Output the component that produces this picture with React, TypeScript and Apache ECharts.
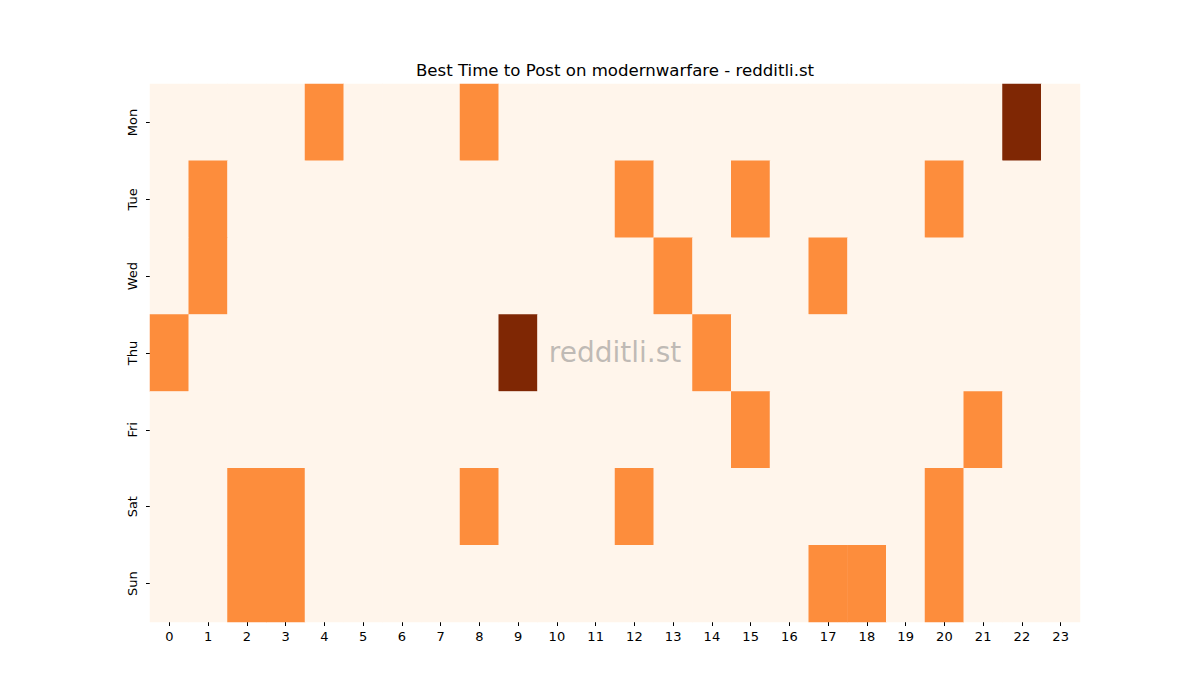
import React, { useEffect, useRef } from "react";
import * as echarts from "echarts";

const hours = Array.from({ length: 24 }, (_, i) => String(i));
const days = ["Mon", "Tue", "Wed", "Thu", "Fri", "Sat", "Sun"];

// Rows of hourly values per day (0..2)
const mon = [0,0,0,0,1,0,0,0,1,0,0,0,0,0,0,0,0,0,0,0,0,0,2,0];
const tue = [0,1,0,0,0,0,0,0,0,0,0,0,1,0,0,1,0,0,0,0,1,0,0,0];
const wed = [0,1,0,0,0,0,0,0,0,0,0,0,0,1,0,0,0,1,0,0,0,0,0,0];
const thu = [1,0,0,0,0,0,0,0,0,2,0,0,0,0,1,0,0,0,0,0,0,0,0,0];
const fri = [0,0,0,0,0,0,0,0,0,0,0,0,0,0,0,1,0,0,0,0,0,1,0,0];
const sat = [0,0,1,1,0,0,0,0,1,0,0,0,1,0,0,0,0,0,0,0,1,0,0,0];
const sun = [0,0,1,1,0,0,0,0,0,0,0,0,0,0,0,0,0,1,1,0,1,0,0,0];
const rows = [mon, tue, wed, thu, fri, sat, sun];

const title = "Best Time to Post on modernwarfare - redditli.st";
const watermark = "redditli.st";

export default function App() {
  const ref = useRef<HTMLDivElement>(null);
  useEffect(() => {
    if (!ref.current) return;
    const chart = echarts.init(ref.current, null, { renderer: "svg" });
    const data: number[][] = [];
    rows.forEach((r, d) => r.forEach((v, h) => data.push([h, d, v])));
    const font = "DejaVu Sans";
    chart.setOption({
      animation: false,
      backgroundColor: "#ffffff",
      graphic: [
        {
          type: "text",
          x: 615,
          y: 79,
          style: {
            text: title,
            fontFamily: font,
            fontSize: 16.6,
            fill: "#000",
            align: "center",
            verticalAlign: "bottom",
          },
        },
        {
          type: "text",
          x: 615,
          y: 352,
          style: {
            text: watermark,
            fontFamily: font,
            fontSize: 28,
            fill: "rgba(128,128,128,0.5)",
            align: "center",
            verticalAlign: "middle",
          },
          z: 100,
        },
      ],
      grid: { left: 150, top: 84, width: 930, height: 538, containLabel: false },
      xAxis: {
        type: "category",
        data: hours,
        axisLine: { show: false },
        axisTick: { show: true, alignWithLabel: true, length: 4, lineStyle: { color: "#000", width: 1 } },
        axisLabel: { fontFamily: font, fontSize: 13, color: "#000", margin: 8, interval: 0 },
        splitLine: { show: false },
        splitArea: { show: false },
      },
      yAxis: {
        type: "category",
        data: days,
        inverse: true,
        axisLine: { show: false },
        axisTick: { show: true, alignWithLabel: true, length: 4, lineStyle: { color: "#000", width: 1 } },
        axisLabel: { fontFamily: font, fontSize: 13, color: "#000", margin: 11, rotate: 90, interval: 0 },
        splitLine: { show: false },
        splitArea: { show: false },
      },
      visualMap: {
        show: false,
        type: "continuous",
        min: 0,
        max: 2,
        dimension: 2,
        inRange: { color: ["#fff5eb", "#fd8d3c", "#7f2704"] },
      },
      series: [
        {
          type: "heatmap",
          data,
          itemStyle: { borderWidth: 0 },
          emphasis: { disabled: true },
        },
      ],
    });
    return () => chart.dispose();
  }, []);
  return <div ref={ref} style={{ width: 1200, height: 700, margin: -8 }} />;
}
